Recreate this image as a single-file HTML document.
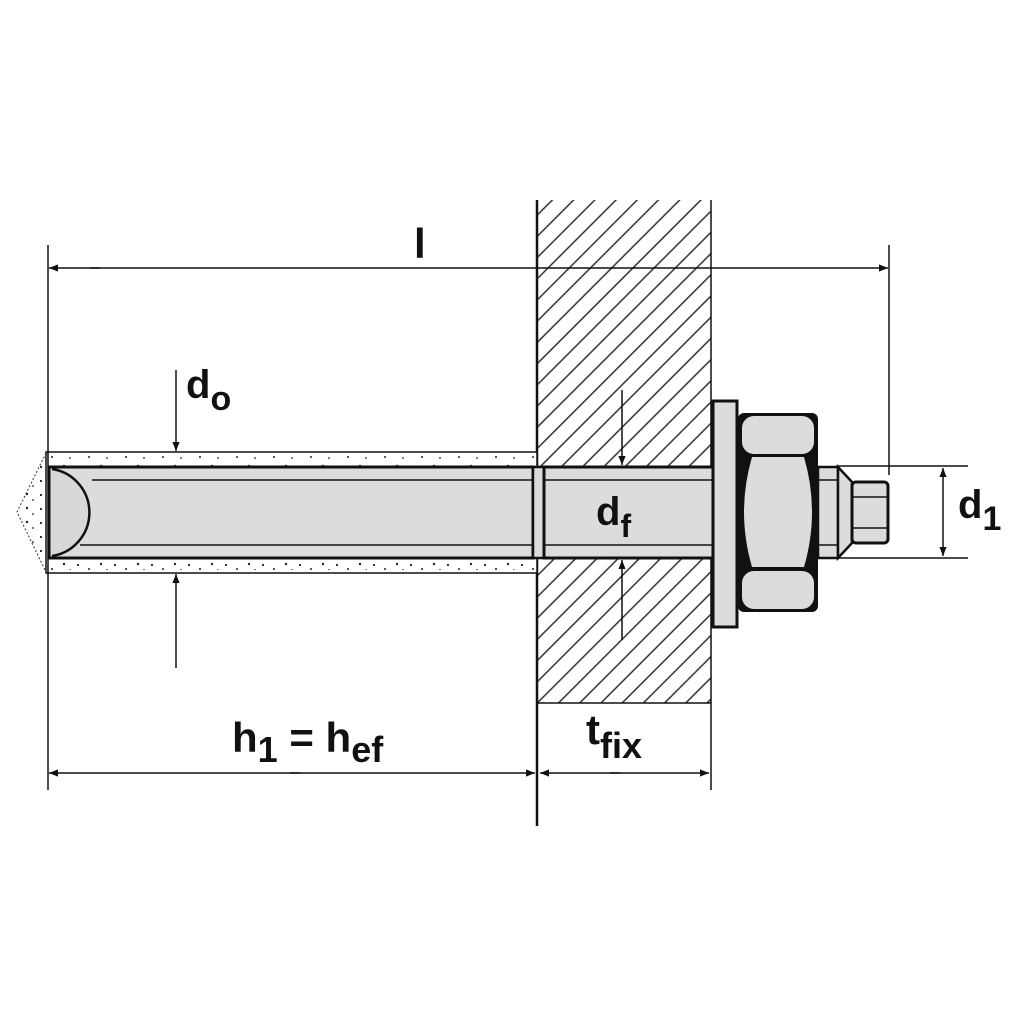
<!DOCTYPE html>
<html><head><style>html,body{margin:0;padding:0;background:#fff}svg{display:block}
text{font-family:"Liberation Sans",Arial,sans-serif;font-weight:bold;fill:#111}</style></head>
<body>
<svg width="1024" height="1024" viewBox="0 0 1024 1024" xmlns="http://www.w3.org/2000/svg">
<defs>
<pattern id="hatch" patternUnits="userSpaceOnUse" width="15" height="15" patternTransform="rotate(45)">
<line x1="7" y1="0" x2="7" y2="15" stroke="#222" stroke-width="1.4"/>
</pattern>
<pattern id="dots" patternUnits="userSpaceOnUse" width="37" height="14">
<circle cx="4" cy="5" r="1.1" fill="#222"/><circle cx="15" cy="9" r="1" fill="#222"/><circle cx="27" cy="4" r="1.2" fill="#222"/><circle cx="33" cy="10" r="0.9" fill="#222"/>
</pattern>
<marker id="ah" viewBox="0 0 10 10" refX="10" refY="5" markerWidth="14" markerHeight="9" markerUnits="userSpaceOnUse" orient="auto"><path d="M0,1 L10,5 L0,9 Z" fill="#111"/></marker>
</defs>
<!-- plate -->
<rect x="538" y="200" width="173" height="503" fill="url(#hatch)"/>
<rect x="538" y="466" width="175" height="93" fill="#fff"/>
<line x1="711" y1="200" x2="711" y2="790" stroke="#111" stroke-width="1.5"/>
<line x1="538" y1="703" x2="711" y2="703" stroke="#111" stroke-width="1.5"/>
<line x1="537" y1="200" x2="537" y2="826" stroke="#111" stroke-width="2.5"/>
<!-- mortar -->
<rect x="46" y="452" width="491" height="121" fill="#fff" stroke="#111" stroke-width="1.5"/>
<rect x="48" y="455" width="488" height="115" fill="url(#dots)"/>
<path d="M46,453 L17,512 L46,572" fill="url(#dots)" stroke="#333" stroke-width="1" stroke-dasharray="2,2"/>
<!-- rod -->
<rect x="49" y="467" width="484" height="91" fill="#dcdcdc" stroke="#111" stroke-width="3"/>
<line x1="92" y1="480" x2="533" y2="480" stroke="#111" stroke-width="1.5"/>
<line x1="80" y1="545" x2="533" y2="545" stroke="#111" stroke-width="1.5"/>
<path d="M52,469 A44,44 0 0 1 52,556" fill="#d8d8d8" stroke="#111" stroke-width="2.5"/>
<rect x="533" y="467" width="11" height="91" fill="#dcdcdc" stroke="#111" stroke-width="2.5"/>
<rect x="544" y="467" width="169" height="91" fill="#dcdcdc" stroke="#111" stroke-width="3"/>
<line x1="544" y1="480" x2="713" y2="480" stroke="#111" stroke-width="1.5"/>
<line x1="544" y1="545" x2="713" y2="545" stroke="#111" stroke-width="1.5"/>
<!-- washer -->
<rect x="713" y="401" width="24" height="226" fill="#dcdcdc" stroke="#111" stroke-width="3"/>
<!-- nut -->
<rect x="738" y="413" width="80" height="199" rx="6" fill="#111"/>
<rect x="742" y="416" width="72" height="38" rx="12" fill="#dcdcdc"/>
<rect x="742" y="571" width="72" height="38" rx="12" fill="#dcdcdc"/>
<path d="M752,457 L804,457 Q820,512 804,567 L752,567 Q736,512 752,457 Z" fill="#dcdcdc"/>
<!-- rod end -->
<rect x="818" y="467" width="20" height="91" fill="#dcdcdc" stroke="#111" stroke-width="2.5"/>
<line x1="818" y1="480" x2="838" y2="480" stroke="#111" stroke-width="1.5"/>
<line x1="818" y1="545" x2="838" y2="545" stroke="#111" stroke-width="1.5"/>
<path d="M838,467 L852,482 L852,543 L838,558 Z" fill="#dcdcdc" stroke="#111" stroke-width="2.5"/>
<rect x="852" y="482" width="36" height="61" rx="4" fill="#dcdcdc" stroke="#111" stroke-width="3"/>
<line x1="852" y1="497" x2="888" y2="497" stroke="#111" stroke-width="1.5"/>
<line x1="852" y1="528" x2="888" y2="528" stroke="#111" stroke-width="1.5"/>
<!-- dimension l -->
<line x1="48" y1="245" x2="48" y2="790" stroke="#111" stroke-width="1.5"/>
<line x1="889" y1="245" x2="889" y2="475" stroke="#111" stroke-width="1.5"/>
<line x1="100" y1="268" x2="49" y2="268" stroke="#111" stroke-width="1.5" marker-end="url(#ah)"/>
<line x1="90" y1="268" x2="888" y2="268" stroke="#111" stroke-width="1.5" marker-end="url(#ah)"/>
<text x="414" y="258" font-size="42">l</text>
<!-- d0 -->
<line x1="176" y1="370" x2="176" y2="451" stroke="#111" stroke-width="1.5" marker-end="url(#ah)"/>
<line x1="176" y1="668" x2="176" y2="574" stroke="#111" stroke-width="1.5" marker-end="url(#ah)"/>
<text x="186" y="398" font-size="40">d<tspan font-size="34" dy="12">o</tspan></text>
<!-- df -->
<line x1="622" y1="390" x2="622" y2="465" stroke="#111" stroke-width="1.5" marker-end="url(#ah)"/>
<line x1="622" y1="640" x2="622" y2="560" stroke="#111" stroke-width="1.5" marker-end="url(#ah)"/>
<text x="596" y="525" font-size="40">d<tspan font-size="32" dy="12">f</tspan></text>
<!-- d1 -->
<line x1="838" y1="466" x2="968" y2="466" stroke="#111" stroke-width="1.5"/>
<line x1="838" y1="558" x2="968" y2="558" stroke="#111" stroke-width="1.5"/>
<line x1="943" y1="512" x2="943" y2="468" stroke="#111" stroke-width="1.5" marker-end="url(#ah)"/>
<line x1="943" y1="512" x2="943" y2="556" stroke="#111" stroke-width="1.5" marker-end="url(#ah)"/>
<text x="958" y="518" font-size="40">d<tspan font-size="34" dy="12">1</tspan></text>
<!-- bottom dims -->
<line x1="300" y1="773" x2="49" y2="773" stroke="#111" stroke-width="1.5" marker-end="url(#ah)"/>
<line x1="290" y1="773" x2="535" y2="773" stroke="#111" stroke-width="1.5" marker-end="url(#ah)"/>
<line x1="620" y1="773" x2="540" y2="773" stroke="#111" stroke-width="1.5" marker-end="url(#ah)"/>
<line x1="610" y1="773" x2="709" y2="773" stroke="#111" stroke-width="1.5" marker-end="url(#ah)"/>
<text x="232" y="752" font-size="42">h<tspan font-size="36" dy="10">1</tspan><tspan dy="-10"> = h</tspan><tspan font-size="36" dy="10">ef</tspan></text>
<text x="586" y="744" font-size="42">t<tspan font-size="36" dy="14">fix</tspan></text>
</svg>
</body></html>
